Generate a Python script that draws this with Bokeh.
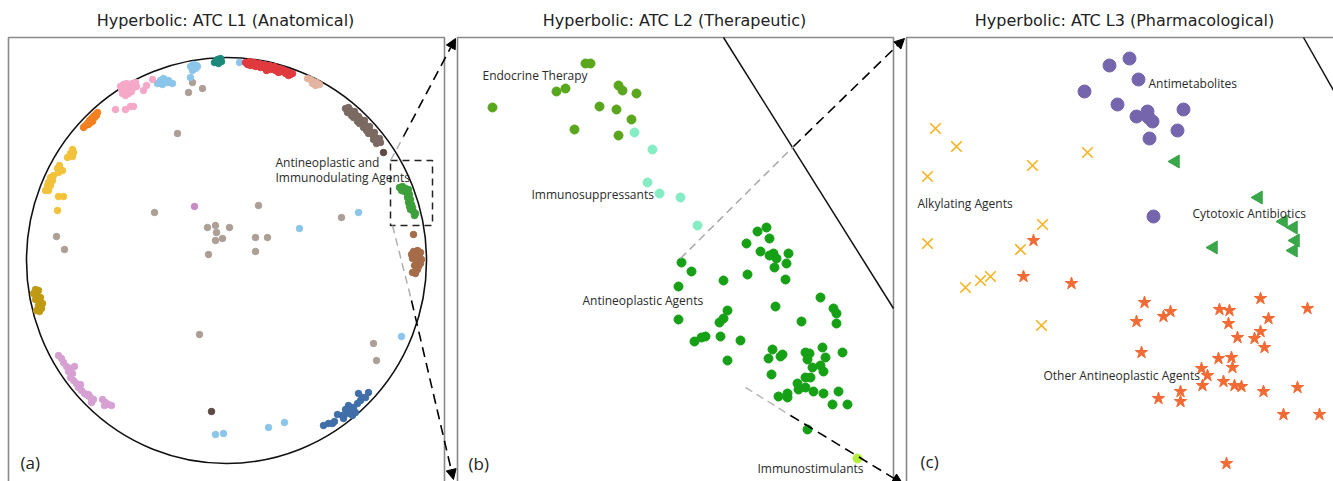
import math
from bokeh.plotting import figure
from bokeh.models import Range1d, Arrow, NormalHead
from bokeh.core.properties import value
from bokeh.embed import file_html
from bokeh.resources import INLINE

# ---------------- Panel (a): ATC L1, panel-local coordinates ----------------
a_teal_x = [206, 209, 212, 210, 213, 208]
a_teal_y = [25, 22, 21, 26, 24, 23]
a_lblue_x = [231, 350, 291, 393, 207, 215, 260, 276, 182, 185, 188, 184, 182, 187, 189,
             149, 152, 155, 159, 164, 154, 160]
a_lblue_y = [25, 175, 191, 299, 397, 396, 390, 385, 29, 27, 28, 33, 40, 31, 29,
             46, 43, 41, 45, 46, 47, 43]
a_red_x = [237, 239, 241, 242, 244, 246, 247, 249, 251, 252, 254, 256, 257, 259, 261, 262,
           264, 266, 267, 269, 271, 272, 274, 276, 277, 279, 281, 282, 284, 280, 270, 258]
a_red_y = [25, 27, 24, 28, 26, 25, 29, 27, 26, 30, 28, 27, 31, 29, 28, 32,
           30, 29, 33, 31, 31, 34, 32, 33, 36, 34, 35, 37, 36, 38, 35, 33]
a_tan_x = [299, 302, 305, 308, 311, 304, 307]
a_tan_y = [41, 42, 44, 45, 47, 46, 48]
a_dgray_x = [337, 340, 342, 339, 344, 346, 348, 345, 350, 352, 349, 354, 356, 357, 355, 359,
             361, 362, 360, 364, 366, 367, 365, 369, 371, 368, 372, 343, 351, 358]
a_dgray_y = [71, 70, 73, 75, 76, 74, 78, 80, 79, 82, 84, 85, 83, 88, 90, 91,
             89, 94, 96, 97, 95, 100, 102, 103, 101, 106, 105, 78, 86, 93]
a_green_x = [391, 394, 397, 400, 393, 398, 401, 399, 402, 400, 403, 404, 402, 405, 407, 406, 396, 401]
a_green_y = [150, 149, 151, 152, 153, 155, 157, 160, 162, 165, 167, 170, 172, 174, 176, 178, 154, 169]
a_brown_x = [405, 409, 412, 403, 407, 411, 413, 404, 408, 412, 410, 406, 409, 404, 407, 405]
a_brown_y = [214, 213, 215, 217, 218, 219, 222, 221, 223, 226, 229, 228, 232, 235, 236, 197]
a_pink_x = [112, 115, 118, 121, 124, 127, 113, 116, 119, 122, 125, 128, 114, 117, 120, 123,
            107, 117, 122, 125, 135, 138, 144]
a_pink_y = [49, 47, 46, 48, 46, 45, 52, 51, 53, 51, 50, 49, 56, 58, 56, 54,
            72, 72, 69, 69, 53, 48, 42]
a_orange_x = [89, 87, 85, 88, 83, 86, 81, 84, 79, 77, 75, 80, 82]
a_orange_y = [75, 77, 79, 78, 81, 80, 83, 84, 86, 88, 90, 87, 85]
a_yellow_x = [64, 65, 62, 59, 64, 51, 49, 54, 50, 45, 42, 44, 40, 39, 42, 37, 40, 50, 55, 49]
a_yellow_y = [112, 115, 116, 120, 119, 128, 131, 133, 135, 138, 140, 143, 145, 148, 148, 153,
              153, 159, 159, 173]
a_taupe_x = [184, 180, 194, 169, 146, 250, 333, 199, 207, 221, 208, 207, 214, 247, 259, 247,
             200, 48, 56, 191, 365, 368]
a_taupe_y = [45, 55, 51, 96, 175, 168, 180, 190, 188, 190, 195, 203, 201, 200, 200, 214,
             217, 199, 212, 297, 306, 323]
a_mauve_x = [186]
a_mauve_y = [169]
a_olive_x = [27, 30, 25, 29, 32, 27, 31, 34, 30, 33, 28, 31]
a_olive_y = [252, 253, 256, 258, 260, 262, 264, 266, 268, 271, 273, 274]
a_orchid_x = [50, 53, 55, 58, 62, 66, 60, 64, 62, 65, 68, 70, 73, 76, 79, 82, 85, 83, 80, 72,
              94, 97, 100, 103, 96]
a_orchid_y = [318, 321, 325, 329, 331, 329, 334, 336, 340, 343, 346, 350, 353, 356, 358, 360,
              362, 365, 357, 347, 362, 365, 367, 368, 368]
a_dbrown_x = [375, 203]
a_dbrown_y = [115, 374]
a_blue_x = [315, 320, 324, 329, 334, 339, 335, 342, 345, 349, 352, 354, 350, 357, 360, 344,
            340, 347, 326, 337]
a_blue_y = [388, 386, 386, 377, 378, 376, 381, 373, 370, 366, 363, 360, 356, 360, 355, 378,
            368, 375, 384, 372]

# ---------------- Panel (b): ATC L2 ----------------
b_endo_x = [128, 133, 99, 108, 161, 165, 179, 35, 142, 159, 174, 117, 161]
b_endo_y = [26, 26, 54, 51, 48, 53, 56, 70, 69, 72, 82, 92, 98]
b_supp_x = [177, 195, 190, 202, 223, 240]
b_supp_y = [95, 112, 145, 156, 160, 188]
b_anti_x = [300, 309, 312, 289, 303, 312, 316, 319, 331, 224, 234, 221, 266, 290, 317, 329,
            328, 318, 363, 376, 379, 379, 344, 270, 266, 262, 221, 248, 244, 237, 263, 283,
            270, 315, 311, 323, 325, 314, 348, 352, 365, 385, 350, 368, 355, 363, 366, 348,
            353, 340, 348, 341, 356, 330, 330, 321, 366, 381, 375, 390, 350]
b_anti_y = [194, 190, 201, 206, 214, 218, 216, 221, 216, 225, 234, 249, 243, 237, 230, 226,
            242, 269, 260, 271, 276, 286, 284, 273, 281, 285, 282, 299, 300, 304, 299, 303,
            323, 312, 321, 319, 317, 337, 315, 316, 310, 315, 322, 320, 330, 328, 334, 340,
            340, 346, 350, 352, 354, 356, 360, 359, 356, 354, 367, 367, 392]
b_stim_x = [400]
b_stim_y = [421]

# ---------------- Panel (c): ATC L3 ----------------
c_metab_x = [223, 203, 232, 178, 211, 230, 241, 242, 246, 277, 271, 243, 247]
c_metab_y = [21, 28, 42, 54, 67, 79, 74, 80, 84, 72, 93, 101, 179]
c_alkyl_x = [29, 50, 21, 126, 181, 136, 21, 114, 59, 74, 84, 135]
c_alkyl_y = [91, 109, 139, 128, 115, 187, 206, 212, 250, 243, 239, 288]
c_cyto_x = [269, 352, 377, 387, 389, 387, 307]
c_cyto_y = [124, 160, 184, 190, 203, 213, 210]
c_other_x = [127, 117, 165, 238, 230, 257, 264, 235, 313, 323, 354, 401, 362, 322, 354, 348,
             331, 358, 312, 325, 326, 295, 301, 317, 328, 335, 296, 357, 391, 274, 274, 252,
             377, 413, 320]
c_other_y = [203, 239, 246, 265, 284, 279, 274, 315, 272, 273, 261, 271, 281, 286, 294, 301,
             300, 310, 321, 320, 330, 331, 338, 344, 348, 349, 348, 354, 350, 354, 364, 361,
             377, 377, 426]

titles = ["Hyperbolic: ATC L1 (Anatomical)", "Hyperbolic: ATC L2 (Therapeutic)",
          "Hyperbolic: ATC L3 (Pharmacological)"]

W, H = 1333, 481
p = figure(width=W, height=H, output_backend="svg", toolbar_location=None,
           x_range=Range1d(0, W), y_range=Range1d(H, 0),
           x_axis_location=None, y_axis_location=None, min_border=0)
p.outline_line_color = None
p.grid.visible = False
p.background_fill_color = "white"

# panel origins (page px)
OA, OB, OC, OY = 8, 457, 906, 37
p.extra_x_ranges = {"a": Range1d(-OA, W - OA), "b": Range1d(-OB, W - OB), "c": Range1d(-OC, W - OC)}
p.extra_y_ranges = {"py": Range1d(H - OY, -OY)}

# frames
for x0 in (OA, OB, OC):
    p.line([x0, x0, x0 + 436, x0 + 436], [H + 10, OY, OY, H + 10], line_color="#8a8a8a", line_width=1.6)

# titles
for cx, t in zip((225, 674, 1124), titles):
    p.text(x=[cx], y=[20], text=[t], text_align="center", text_baseline="middle",
           text_font=value("DejaVu Sans"), text_font_size="16px", text_color="#222222")

# disk boundary in (a)
p.ellipse(x=[226], y=[260], width=400, height=406, fill_color=None, line_color="#111111", line_width=1.6)
# disk boundary segments in (b) and (c)
p.line([723, 893], [37, 308], line_color="#111111", line_width=1.5)
p.line([1303, 1345], [37, 111], line_color="#111111", line_width=1.5)

# dashed zoom box in (a)
p.line([390, 432, 432, 390, 390], [160, 160, 225, 225, 160], line_color="#222222",
       line_width=1.5, line_dash="7 5")

def sc(xs, ys, rng, marker, size, color, line=None, lw=1.0, alpha=1.0):
    p.scatter(xs, ys, x_range_name=rng, y_range_name="py", marker=marker, size=size,
              fill_color=color, line_color=line if line else color, line_width=lw,
              fill_alpha=alpha, line_alpha=alpha)

s = 6.5
sc(a_taupe_x, a_taupe_y, "a", "circle", s, "#ad9f96")
sc(a_teal_x, a_teal_y, "a", "circle", s, "#1b8a7a")
sc(a_lblue_x, a_lblue_y, "a", "circle", s, "#8cc5ea")
sc(a_red_x, a_red_y, "a", "circle", s, "#e0393e")
sc(a_tan_x, a_tan_y, "a", "circle", s, "#e3b5a0")
sc(a_dgray_x, a_dgray_y, "a", "circle", s, "#7b6a62")
sc(a_green_x, a_green_y, "a", "circle", s, "#3da03a")
sc(a_brown_x, a_brown_y, "a", "circle", s, "#a66b48")
sc(a_pink_x, a_pink_y, "a", "circle", s, "#f6a8c8")
sc(a_orange_x, a_orange_y, "a", "circle", s, "#f28020")
sc(a_yellow_x, a_yellow_y, "a", "circle", s, "#f2c23a")
sc(a_mauve_x, a_mauve_y, "a", "circle", s, "#c98bc4")
sc(a_olive_x, a_olive_y, "a", "circle", s, "#bf9a12")
sc(a_orchid_x, a_orchid_y, "a", "circle", s, "#d7a0d2")
sc(a_dbrown_x, a_dbrown_y, "a", "circle", s, "#5d4a47")
sc(a_blue_x, a_blue_y, "a", "circle", s, "#3f6ea8")

sc(b_endo_x, b_endo_y, "b", "circle", 9, "#5aa61c")
sc(b_supp_x, b_supp_y, "b", "circle", 9, "#86ecc4")
sc(b_anti_x, b_anti_y, "b", "circle", 9, "#16a016")
sc(b_stim_x, b_stim_y, "b", "circle", 9, "#b5ee3c")

sc(c_metab_x, c_metab_y, "c", "circle", 13, "#7565ad")
p.scatter(c_alkyl_x, c_alkyl_y, x_range_name="c", y_range_name="py", marker="x", size=15,
          line_color="#f5b21e", line_width=1.6)
p.scatter(c_cyto_x, c_cyto_y, x_range_name="c", y_range_name="py", marker="triangle", size=13,
          angle=math.pi / 2, fill_color="#3aa64a", line_color="#3aa64a")
sc(c_other_x, c_other_y, "c", "star", 13, "#f26b35")

# zoom arrows (gray inside the disk, dark outside)
def seg(x0, y0, x1, y1, color):
    p.line([x0, x1], [y0, y1], line_color=color, line_width=1.5, line_dash="8 5")

def arr(x0, y0, x1, y1):
    p.add_layout(Arrow(x_start=x0, y_start=y0, x_end=x1, y_end=y1, line_color="black",
                       line_width=1.6, line_dash="10 6",
                       end=NormalHead(size=10, fill_color="black", line_color="black")))

seg(390, 160, 403, 136, "#b0b0b0")
arr(403, 136, 455, 38)
seg(392, 225, 411, 300, "#b0b0b0")
arr(411, 300, 453, 479)
seg(680, 258, 793, 146, "#a8a8a8")
arr(793, 146, 904, 38)
seg(745, 387, 790, 415, "#b8b8b8")
arr(790, 415, 902, 483)

# cluster labels (page px, left-aligned)
lab_x = [275, 275, 482, 531, 582, 757, 1148, 917, 1192, 1043]
lab_y = [162, 177, 75, 194, 300, 468, 83, 203, 213, 375]
lab_t = ["Antineoplastic and", "Immunodulating Agents", "Endocrine Therapy", "Immunosuppressants",
         "Antineoplastic Agents", "Immunostimulants", "Antimetabolites", "Alkylating Agents",
         "Cytotoxic Antibiotics", "Other Antineoplastic Agents"]
p.text(x=lab_x, y=lab_y, text=lab_t, text_align="left", text_baseline="middle",
       text_font=value("Open Sans"), text_font_size="12px", text_color="#2a2a2a")

p.text(x=[20, 468, 920], y=[462, 463, 461], text=["(a)", "(b)", "(c)"], text_align="left",
       text_baseline="middle", text_font=value("Open Sans"), text_font_size="17px",
       text_color="#222222")

open("out.html", "w").write(file_html(p, INLINE))
